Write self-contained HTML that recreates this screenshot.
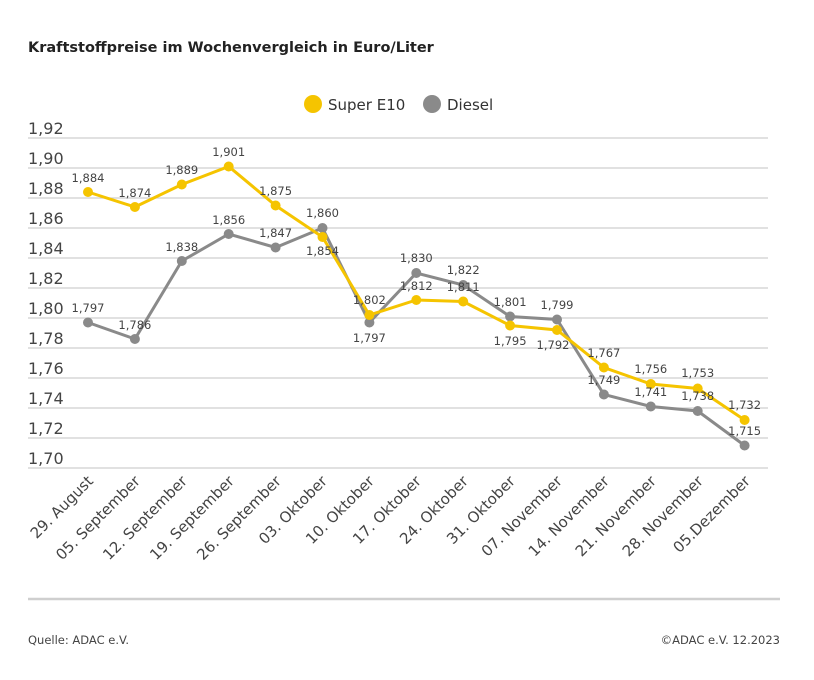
<!DOCTYPE html>
<html><head><meta charset="utf-8"><style>
body{margin:0;background:#fff;}
svg{display:block;font-family:"DejaVu Sans","Liberation Sans",sans-serif;}
</style></head><body>
<svg width="814" height="680" viewBox="0 0 814 680" xmlns="http://www.w3.org/2000/svg">
<text x="28" y="52" font-size="14.5" font-weight="bold" fill="#222">Kraftstoffpreise im Wochenvergleich in Euro/Liter</text>
<circle cx="313" cy="104" r="9" fill="#f5c400"/><text x="328" y="110" font-size="15" fill="#333">Super E10</text>
<circle cx="432" cy="104" r="9" fill="#8a8a8a"/><text x="447" y="110" font-size="15" fill="#333">Diesel</text>
<g stroke="#cfcfcf" stroke-width="1.3">
<line x1="28" x2="768" y1="138" y2="138"/><line x1="28" x2="768" y1="168" y2="168"/><line x1="28" x2="768" y1="198" y2="198"/><line x1="28" x2="768" y1="228" y2="228"/><line x1="28" x2="768" y1="258" y2="258"/><line x1="28" x2="768" y1="288" y2="288"/><line x1="28" x2="768" y1="318" y2="318"/><line x1="28" x2="768" y1="348" y2="348"/><line x1="28" x2="768" y1="378" y2="378"/><line x1="28" x2="768" y1="408" y2="408"/><line x1="28" x2="768" y1="438" y2="438"/><line x1="28" x2="768" y1="468" y2="468"/>
</g>
<line x1="28" x2="780" y1="599" y2="599" stroke="#cfcfcf" stroke-width="2.5"/>
<g font-size="16" fill="#444">
<text x="28" y="134">1,92</text><text x="28" y="164">1,90</text><text x="28" y="194">1,88</text><text x="28" y="224">1,86</text><text x="28" y="254">1,84</text><text x="28" y="284">1,82</text><text x="28" y="314">1,80</text><text x="28" y="344">1,78</text><text x="28" y="374">1,76</text><text x="28" y="404">1,74</text><text x="28" y="434">1,72</text><text x="28" y="464">1,70</text>
</g>
<polyline fill="none" stroke="#8a8a8a" stroke-width="3" points="88,322.5 134.9,339 181.8,261 228.7,234 275.6,247.5 322.5,228 369.4,322.5 416.3,273 463.2,285 510.1,316.5 557,319.5 603.9,394.5 650.8,406.5 697.7,411 744.6,445.5"/>
<polyline fill="none" stroke="#f5c400" stroke-width="3" points="88,192 134.9,207 181.8,184.5 228.7,166.5 275.6,205.5 322.5,237 369.4,315 416.3,300 463.2,301.5 510.1,325.5 557,330 603.9,367.5 650.8,384 697.7,388.5 744.6,420"/>
<g fill="#8a8a8a">
<circle cx="88" cy="322.5" r="5"/><circle cx="134.9" cy="339" r="5"/><circle cx="181.8" cy="261" r="5"/><circle cx="228.7" cy="234" r="5"/><circle cx="275.6" cy="247.5" r="5"/><circle cx="322.5" cy="228" r="5"/><circle cx="369.4" cy="322.5" r="5"/><circle cx="416.3" cy="273" r="5"/><circle cx="463.2" cy="285" r="5"/><circle cx="510.1" cy="316.5" r="5"/><circle cx="557" cy="319.5" r="5"/><circle cx="603.9" cy="394.5" r="5"/><circle cx="650.8" cy="406.5" r="5"/><circle cx="697.7" cy="411" r="5"/><circle cx="744.6" cy="445.5" r="5"/>
</g>
<g fill="#f5c400">
<circle cx="88" cy="192" r="5"/><circle cx="134.9" cy="207" r="5"/><circle cx="181.8" cy="184.5" r="5"/><circle cx="228.7" cy="166.5" r="5"/><circle cx="275.6" cy="205.5" r="5"/><circle cx="322.5" cy="237" r="5"/><circle cx="369.4" cy="315" r="5"/><circle cx="416.3" cy="300" r="5"/><circle cx="463.2" cy="301.5" r="5"/><circle cx="510.1" cy="325.5" r="5"/><circle cx="557" cy="330" r="5"/><circle cx="603.9" cy="367.5" r="5"/><circle cx="650.8" cy="384" r="5"/><circle cx="697.7" cy="388.5" r="5"/><circle cx="744.6" cy="420" r="5"/>
</g>
<g font-size="11.5" fill="#444" text-anchor="middle">
<text x="88" y="182">1,884</text><text x="134.9" y="197">1,874</text><text x="181.8" y="174">1,889</text><text x="228.7" y="156">1,901</text><text x="275.6" y="195">1,875</text><text x="322.5" y="255">1,854</text><text x="369.4" y="304">1,802</text><text x="416.3" y="290">1,812</text><text x="463.2" y="291">1,811</text><text x="510.1" y="345">1,795</text><text x="553" y="349">1,792</text><text x="603.9" y="357">1,767</text><text x="650.8" y="373">1,756</text><text x="697.7" y="377">1,753</text><text x="744.6" y="409">1,732</text>
<text x="88" y="312">1,797</text><text x="134.9" y="329">1,786</text><text x="181.8" y="251">1,838</text><text x="228.7" y="224">1,856</text><text x="275.6" y="237">1,847</text><text x="322.5" y="217">1,860</text><text x="369.4" y="342">1,797</text><text x="416.3" y="262">1,830</text><text x="463.2" y="274">1,822</text><text x="510.1" y="306">1,801</text><text x="557" y="309">1,799</text><text x="603.9" y="384">1,749</text><text x="650.8" y="396">1,741</text><text x="697.7" y="400">1,738</text><text x="744.6" y="435">1,715</text>
</g>
<g font-size="15" fill="#444" text-anchor="end">
<text transform="translate(94,482) rotate(-45)">29. August</text>
<text transform="translate(141,482) rotate(-45)">05. September</text>
<text transform="translate(188,482) rotate(-45)">12. September</text>
<text transform="translate(235,482) rotate(-45)">19. September</text>
<text transform="translate(282,482) rotate(-45)">26. September</text>
<text transform="translate(328,482) rotate(-45)">03. Oktober</text>
<text transform="translate(375,482) rotate(-45)">10. Oktober</text>
<text transform="translate(422,482) rotate(-45)">17. Oktober</text>
<text transform="translate(469,482) rotate(-45)">24. Oktober</text>
<text transform="translate(516,482) rotate(-45)">31. Oktober</text>
<text transform="translate(563,482) rotate(-45)">07. November</text>
<text transform="translate(610,482) rotate(-45)">14. November</text>
<text transform="translate(657,482) rotate(-45)">21. November</text>
<text transform="translate(704,482) rotate(-45)">28. November</text>
<text transform="translate(751,482) rotate(-45)">05.Dezember</text>
</g>
<text x="28" y="644" font-size="11.5" fill="#444">Quelle: ADAC e.V.</text>
<text x="780" y="644" font-size="11.5" fill="#444" text-anchor="end">©ADAC e.V. 12.2023</text>
</svg>
</body></html>
